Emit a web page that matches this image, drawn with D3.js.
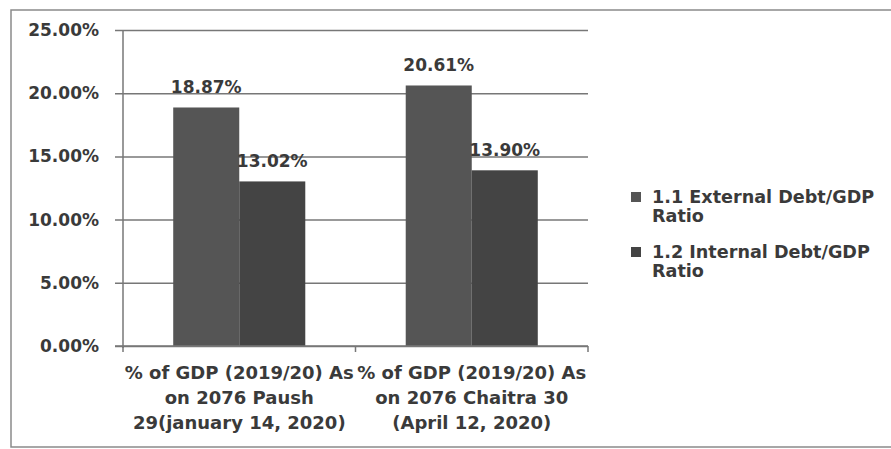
<!DOCTYPE html>
<html>
<head>
<meta charset="utf-8">
<script src="https://cdn.jsdelivr.net/npm/d3@7"></script>
<style>
  html, body { margin: 0; padding: 0; background: #fff; }
  svg text { font-family: "DejaVu Sans", sans-serif; font-weight: bold; fill: #3a3a3a; }
</style>
</head>
<body>
<svg id="chart" width="891" height="449"></svg>
<script>
/* ── Data ─────────────────────────────────────────────── */
const categories = [
  ['% of GDP (2019/20) As', 'on 2076 Paush', '29(january 14, 2020)'],
  ['% of GDP (2019/20) As', 'on 2076 Chaitra 30', '(April 12, 2020)']
];
const seriesNames = [
  ['1.1 External Debt/GDP', 'Ratio'],
  ['1.2 Internal Debt/GDP', 'Ratio']
];
const externalRatio = [18.87, 20.61];
const internalRatio = [13.02, 13.90];
const yTicks = [0, 5, 10, 15, 20, 25];

/* ── Layout ───────────────────────────────────────────── */
const M = { left: 123, right: 588, top: 30, bottom: 346 };
const COLORS = ['#555555', '#444444'];
const GRID = '#777777';

const svg = d3.select('#chart');

// outer frame (right edge runs off the picture)
svg.append('rect')
  .attr('x', 11).attr('y', 10)
  .attr('width', 920).attr('height', 437)
  .attr('fill', 'none').attr('stroke', '#8a8a8a').attr('stroke-width', 1.5);

const x0 = d3.scaleBand()
  .domain(d3.range(categories.length))
  .range([M.left, M.right])
  .paddingInner(0.432).paddingOuter(0.216);
const x1 = d3.scaleBand().domain([0, 1]).range([0, x0.bandwidth()]);
const y = d3.scaleLinear().domain([0, 25]).range([M.bottom, M.top]);

/* gridlines + y axis */
const yAxis = d3.axisLeft(y)
  .tickValues(yTicks)
  .tickSize(-(M.right - M.left))
  .tickPadding(16)
  .tickFormat(d => d3.format('.2f')(d) + '%');
const gy = svg.append('g').attr('transform', `translate(${M.left},0)`).call(yAxis);
gy.select('.domain').remove();
gy.selectAll('.tick line').attr('stroke', GRID).attr('stroke-width', 1.5).attr('x1', -8);
gy.selectAll('.tick text').attr('font-size', 17).attr('x', -24);
svg.append('line')
  .attr('x1', M.left).attr('x2', M.left).attr('y1', M.top).attr('y2', M.bottom + 2)
  .attr('stroke', GRID).attr('stroke-width', 1.5);

/* bars */
const series = [externalRatio, internalRatio];
const groups = svg.append('g').selectAll('g')
  .data(categories.map((c, i) => i))
  .join('g')
  .attr('transform', i => `translate(${x0(i)},0)`);

groups.selectAll('rect')
  .data(i => series.map((s, k) => ({ k, v: s[i] })))
  .join('rect')
  .attr('x', d => x1(d.k))
  .attr('width', x1.bandwidth())
  .attr('y', d => y(d.v))
  .attr('height', d => y(0) - y(d.v))
  .attr('fill', d => COLORS[d.k]);

groups.selectAll('text.lbl')
  .data(i => series.map((s, k) => ({ k, v: s[i] })))
  .join('text')
  .attr('class', 'lbl')
  .attr('x', d => x1(d.k) + x1.bandwidth() / 2)
  .attr('y', d => y(d.v) - 14)
  .attr('text-anchor', 'middle')
  .attr('font-size', 17)
  .text(d => d.v.toFixed(2) + '%');

/* x axis */
const xAxisLine = svg.append('g');
xAxisLine.append('line')
  .attr('x1', M.left - 8).attr('x2', M.right).attr('y1', M.bottom).attr('y2', M.bottom)
  .attr('stroke', GRID).attr('stroke-width', 1.5);
const edges = [M.left, ...d3.range(1, categories.length).map(i => x0(i) - x0.step() * x0.paddingInner() / 2), M.right];
xAxisLine.selectAll('line.tk')
  .data(edges)
  .join('line')
  .attr('class', 'tk')
  .attr('x1', d => d).attr('x2', d => d)
  .attr('y1', M.bottom).attr('y2', M.bottom + 6)
  .attr('stroke', GRID).attr('stroke-width', 1.5);

svg.append('g').selectAll('text')
  .data(categories)
  .join('text')
  .attr('text-anchor', 'middle')
  .attr('font-size', 18)
  .attr('transform', (d, i) => `translate(${x0(i) + x0.bandwidth() / 2},0)`)
  .each(function(lines) {
    d3.select(this).selectAll('tspan')
      .data(lines)
      .join('tspan')
      .attr('x', 0)
      .attr('y', (l, j) => 379 + j * 25)
      .text(l => l);
  });

/* legend */
const legend = svg.append('g').attr('transform', 'translate(631,0)');
const ly = [192, 247];
seriesNames.forEach((lines, k) => {
  legend.append('rect')
    .attr('x', 0).attr('y', ly[k])
    .attr('width', 10).attr('height', 10)
    .attr('fill', COLORS[k]);
  const t = legend.append('text').attr('font-size', 17.6);
  lines.forEach((l, j) =>
    t.append('tspan').attr('x', 21).attr('y', ly[k] + 11 + j * 19).text(l));
});
</script>
</body>
</html>
